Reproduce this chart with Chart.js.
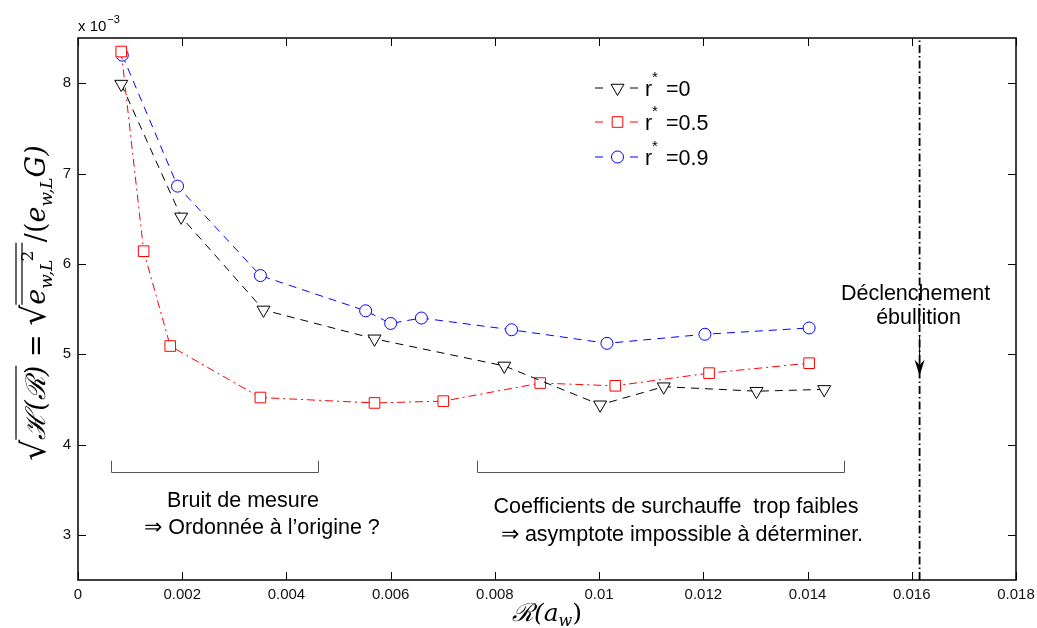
<!DOCTYPE html>
<html>
<head>
<meta charset="utf-8">
<script src="https://cdn.jsdelivr.net/npm/chart.js@4/dist/chart.umd.min.js"></script>
<style>
  body { margin: 0; background: #fff; }
</style>
</head>
<body>
<canvas id="myChart" width="1037" height="628"></canvas>
<script>
// y values are in units of 1e-3 (the axis carries the "x 10^-3" factor)
const xR0  = [0.00083, 0.00198, 0.00356, 0.00569, 0.00818, 0.01002, 0.01124, 0.01302, 0.01432];
const yR0  = [7.99, 6.52, 5.49, 5.17, 4.87, 4.44, 4.64, 4.59, 4.61];
const xR05 = [0.00083, 0.00126, 0.00177, 0.00350, 0.00569, 0.00701, 0.00887, 0.01031, 0.01211, 0.01403];
const yR05 = [8.35, 6.14, 5.09, 4.52, 4.46, 4.48, 4.68, 4.65, 4.79, 4.90];
const xR09 = [0.00085, 0.00191, 0.00350, 0.00552, 0.00600, 0.00659, 0.00832, 0.01015, 0.01203, 0.01403];
const yR09 = [8.31, 6.86, 5.87, 5.48, 5.34, 5.40, 5.27, 5.12, 5.22, 5.29];
const seriesLabels = ['0', '0.5', '0.9'];

const boilingX = 0.01615;        // "Déclenchement ébullition"
const arrowY = [5.21, 4.76];     // arrow from / to

const xMin = 0, xMax = 0.018;
const yMin = 2.5, yMax = 8.5;
const xTicks = [0, 0.002, 0.004, 0.006, 0.008, 0.01, 0.012, 0.014, 0.016, 0.018];
const xTickLabels = ['0', '0.002', '0.004', '0.006', '0.008', '0.01', '0.012', '0.014', '0.016', '0.018'];
const yTicks = [3, 4, 5, 6, 7, 8];

// bracket ranges (x from, x to) and the texts under them
const bracketNoise = [0.000635, 0.0046];
const bracketLow = [0.00765, 0.01469];
const bracketY = [3.82, 3.70];

const sans = '"Liberation Sans", Arial, Helvetica, sans-serif';
const serif = '"DejaVu Serif", "Liberation Serif", serif';

function toPoints(xs, ys) {
    return xs.map((x, i) => ({ x: x, y: ys[i] }));
}

function drawRuns(ctx, runs, cx, cy) {
    let total = 0;
    runs.forEach(r => {
        ctx.font = r.font;
        r.w = ctx.measureText(r.t).width;
        total += r.w + (r.dx || 0);
    });
    let x = cx - total / 2;
    runs.forEach(r => {
        ctx.font = r.font;
        ctx.fillText(r.t, x, cy + (r.dy || 0));
        (r.bars || []).forEach(b => {
            ctx.beginPath();
            ctx.moveTo(x + (b.x0 || 0), cy - b.h);
            ctx.lineTo(x + r.w + (b.x1 || 0), cy - b.h);
            ctx.stroke();
        });
        x += r.w + (r.dx || 0);
    });
}

const decorPlugin = {
    id: 'decor',
    afterDraw(chart) {
        const ctx = chart.ctx;
        const a = chart.chartArea;
        const xs = chart.scales.x, ys = chart.scales.y;
        ctx.save();

        // box
        ctx.strokeStyle = '#000';
        ctx.lineWidth = 1.5;
        ctx.strokeRect(a.left, a.top, a.right - a.left, a.bottom - a.top);

        // inward ticks on all sides
        ctx.lineWidth = 1;
        ctx.beginPath();
        xTicks.forEach(v => {
            const px = Math.round(xs.getPixelForValue(v)) + 0.5;
            ctx.moveTo(px, a.bottom); ctx.lineTo(px, a.bottom - 8);
            ctx.moveTo(px, a.top); ctx.lineTo(px, a.top + 8);
        });
        yTicks.forEach(v => {
            const py = Math.round(ys.getPixelForValue(v)) + 0.5;
            ctx.moveTo(a.left, py); ctx.lineTo(a.left + 8, py);
            ctx.moveTo(a.right, py); ctx.lineTo(a.right - 8, py);
        });
        ctx.stroke();

        // exponent
        ctx.fillStyle = '#000';
        ctx.textBaseline = 'alphabetic';
        ctx.textAlign = 'left';
        ctx.font = '15px ' + sans;
        ctx.fillText('x 10', a.left, 31);
        const w10 = ctx.measureText('x 10').width;
        ctx.font = '11px ' + sans;
        ctx.fillText('\u22123', a.left + w10 + 1, 23);

        // x axis title
        ctx.strokeStyle = '#000';
        ctx.lineWidth = 1.2;
        drawRuns(ctx, [
            { t: '\u211B(', font: 'italic 25px ' + serif },
            { t: 'a', font: 'italic 25px ' + serif },
            { t: 'w', font: 'italic 16px ' + serif, dy: 5 },
            { t: ')', font: '25px ' + serif }
        ], (a.left + a.right) / 2, 621);

        // y axis title (rotated)
        ctx.save();
        ctx.translate(36, 303);
        ctx.rotate(-Math.PI / 2);
        drawRuns(ctx, [
            { t: '\u221A', font: '33px ' + serif },
            { t: '\u210B(\u211B)', font: 'italic 27px ' + serif, bars: [{ h: 29 }] },
            { t: ' = ', font: '27px ' + serif },
            { t: '\u221A', font: '33px ' + serif },
            { t: 'e', font: 'italic 27px ' + serif, bars: [{ h: 29, x1: 46 }, { h: 23, x1: 46 }] },
            { t: 'w,L', font: 'italic 17px ' + serif, dy: 7, dx: -2 },
            { t: '2', font: '17px ' + serif, dy: -12 },
            { t: ' /(', font: '27px ' + serif },
            { t: 'e', font: 'italic 27px ' + serif },
            { t: 'w,L', font: 'italic 17px ' + serif, dy: 7 },
            { t: 'G)', font: 'italic 27px ' + serif }
        ], 0, 9);
        ctx.restore();

        // legend
        const legendRows = [88, 122, 157];
        chart.data.datasets.slice(0, 3).forEach((ds, i) => {
            const y = legendRows[i];
            ctx.save();
            ctx.strokeStyle = ds.borderColor;
            ctx.lineWidth = 1;
            ctx.setLineDash(ds.borderDash);
            ctx.beginPath();
            ctx.moveTo(595, y); ctx.lineTo(605, y);
            ctx.moveTo(630, y); ctx.lineTo(641, y);
            ctx.stroke();
            ctx.setLineDash([]);
            ctx.strokeStyle = ds.pointBorderColor;
            ctx.fillStyle = ds.pointBackgroundColor;
            Chart.helpers.drawPoint(ctx, {
                pointStyle: ds.pointStyle,
                rotation: ds.pointRotation || 0,
                radius: ds.pointRadius,
                borderWidth: 1
            }, 617.5, y);
            ctx.restore();
            ctx.fillStyle = '#000';
            ctx.textAlign = 'left';
            ctx.textBaseline = 'alphabetic';
            ctx.font = '21.5px ' + sans;
            ctx.fillText('r', 645, y + 8);
            ctx.font = '15px ' + sans;
            ctx.fillText('*', 652, y - 6);
            ctx.font = '21.5px ' + sans;
            ctx.fillText('=' + seriesLabels[i], 666, y + 8);
        });

        // brackets
        ctx.strokeStyle = '#555';
        ctx.lineWidth = 1;
        [bracketNoise, bracketLow].forEach(b => {
            const x0 = Math.round(xs.getPixelForValue(b[0])) + 0.5;
            const x1 = Math.round(xs.getPixelForValue(b[1])) + 0.5;
            const yt = ys.getPixelForValue(bracketY[0]);
            const yb = Math.round(ys.getPixelForValue(bracketY[1])) + 0.5;
            ctx.beginPath();
            ctx.moveTo(x0, yt); ctx.lineTo(x0, yb); ctx.lineTo(x1, yb); ctx.lineTo(x1, yt);
            ctx.stroke();
        });

        ctx.fillStyle = '#000';
        ctx.textAlign = 'center';
        ctx.textBaseline = 'middle';
        ctx.font = '21.5px ' + sans;
        ctx.fillText('Bruit de mesure', 243, 501);
        ctx.fillText('\u21D2 Ordonnée à l\u2019origine ?', 262, 528);
        ctx.fillText('Coefficients de surchauffe  trop faibles', 676, 507);
        ctx.fillText('\u21D2 asymptote impossible à déterminer.', 682, 535);

        // boiling onset label + arrow
        const bx = xs.getPixelForValue(boilingX);
        ctx.fillText('Déclenchement', bx - 4, 294);
        ctx.fillText('ébullition', bx - 1, 318);
        const ay0 = ys.getPixelForValue(arrowY[0]);
        const ay1 = ys.getPixelForValue(arrowY[1]);
        ctx.strokeStyle = '#000';
        ctx.lineWidth = 1;
        ctx.beginPath();
        ctx.moveTo(bx, ay0); ctx.lineTo(bx, ay1 - 10);
        ctx.stroke();
        ctx.beginPath();
        ctx.moveTo(bx, ay1);
        ctx.lineTo(bx - 5, ay1 - 16);
        ctx.lineTo(bx, ay1 - 11);
        ctx.lineTo(bx + 5, ay1 - 16);
        ctx.closePath();
        ctx.fillStyle = '#000';
        ctx.fill();

        ctx.restore();
    }
};

new Chart('myChart', {
    type: 'line',
    data: {
        datasets: [{
            label: 'r* =' + seriesLabels[0],
            data: toPoints(xR0, yR0),
            borderColor: '#000000',
            borderWidth: 1,
            borderDash: [8, 6],
            pointStyle: 'triangle',
            pointRotation: 180,
            pointRadius: 7.5,
            pointBorderColor: '#000000',
            pointBackgroundColor: '#ffffff',
            pointBorderWidth: 1
        }, {
            label: 'r* =' + seriesLabels[1],
            data: toPoints(xR05, yR05),
            borderColor: '#ff0000',
            borderWidth: 1,
            borderDash: [8, 4, 2, 4],
            pointStyle: 'rect',
            pointRadius: 7.5,
            pointBorderColor: '#ff0000',
            pointBackgroundColor: '#ffffff',
            pointBorderWidth: 1
        }, {
            label: 'r* =' + seriesLabels[2],
            data: toPoints(xR09, yR09),
            borderColor: '#0000ff',
            borderWidth: 1,
            borderDash: [8, 6],
            pointStyle: 'circle',
            pointRadius: 6,
            pointBorderColor: '#0000ff',
            pointBackgroundColor: '#ffffff',
            pointBorderWidth: 1
        }, {
            label: 'boiling',
            data: [{ x: boilingX, y: yMin }, { x: boilingX, y: yMax }],
            borderColor: '#000000',
            borderWidth: 1.8,
            borderDash: [8, 3, 1.5, 3],
            pointRadius: 0
        }]
    },
    options: {
        responsive: false,
        animation: false,
        layout: { padding: { top: 38, right: 21, left: 0, bottom: 0 } },
        plugins: {
            legend: { display: false },
            tooltip: { enabled: false }
        },
        scales: {
            x: {
                type: 'linear',
                min: xMin,
                max: xMax,
                afterBuildTicks: s => { s.ticks = xTicks.map(v => ({ value: v })); },
                afterFit: s => { s.height = 48; s.paddingLeft = 0; s.paddingRight = 0; },
                grid: { display: false, drawTicks: false },
                border: { display: false },
                ticks: {
                    padding: 6,
                    maxRotation: 0,
                    color: '#111',
                    font: { family: sans, size: 15 },
                    callback: (v, i) => xTickLabels[i]
                }
            },
            y: {
                type: 'linear',
                min: yMin,
                max: yMax,
                afterBuildTicks: s => { s.ticks = yTicks.map(v => ({ value: v })); },
                afterFit: s => { s.width = 78; s.paddingTop = 0; s.paddingBottom = 0; },
                grid: { display: false, drawTicks: false },
                border: { display: false },
                ticks: {
                    padding: 7,
                    color: '#111',
                    font: { family: sans, size: 15 }
                }
            }
        }
    },
    plugins: [decorPlugin]
});
</script>
</body>
</html>
